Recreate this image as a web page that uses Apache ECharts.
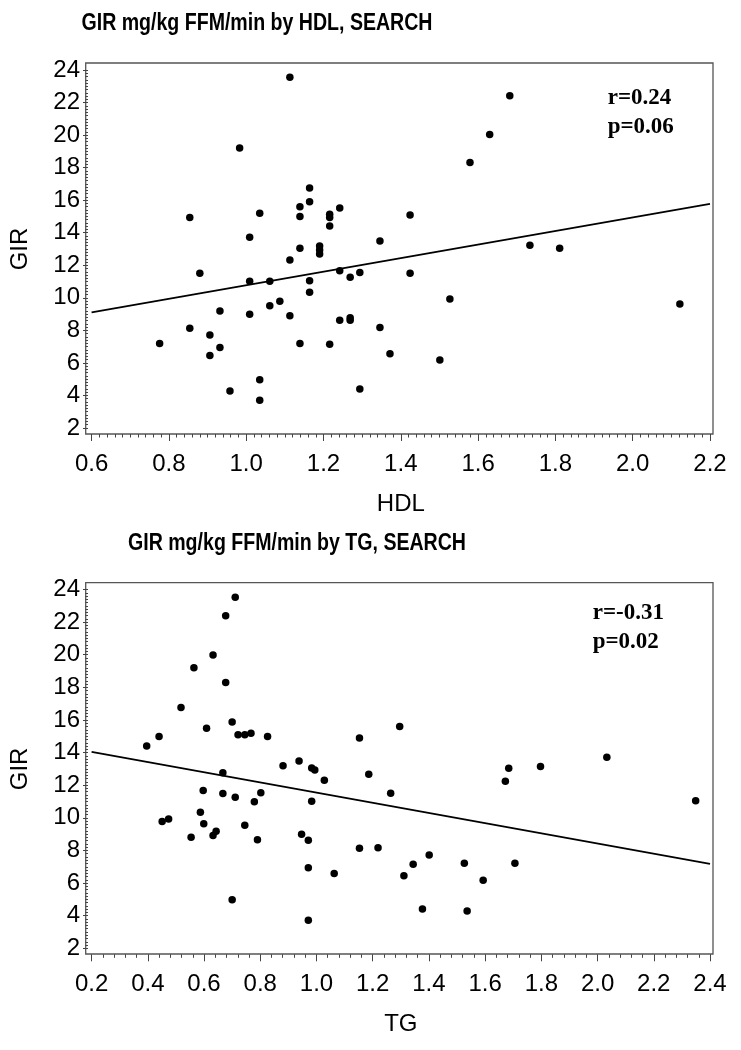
<!DOCTYPE html>
<html>
<head>
<meta charset="utf-8">
<script src="https://cdn.jsdelivr.net/npm/echarts@6/dist/echarts.min.js"></script>
<style>
html,body{margin:0;padding:0;background:#fff;}
#chart{width:741px;height:1050px;}
</style>
</head>
<body>
<div id="chart"></div>
<script>
// ---- Data: top panel (HDL vs GIR) ----
var hdlX = [1.113, 0.983, 1.164, 1.164, 1.139, 1.242, 1.035, 0.854, 1.139, 1.216, 1.216, 1.216, 1.009, 1.346, 1.139, 1.19, 1.19, 1.19, 1.113, 1.242, 1.269, 1.294, 0.88, 1.009, 1.061, 1.164, 1.164, 1.087, 1.061, 0.932, 1.682, 1.63, 1.579, 1.424, 1.734, 1.811, 1.424, 1.527, 2.122, 1.009, 1.113, 0.854, 0.776, 0.906, 0.932, 0.906, 1.139, 1.216, 1.242, 1.269, 1.269, 1.346, 1.372, 0.958, 1.035, 1.035, 1.294, 1.501];
var hdlGIR = [23.55, 19.2, 16.75, 15.9, 15.6, 15.52, 15.2, 14.93, 15.0, 15.13, 14.93, 14.42, 13.72, 13.49, 13.04, 13.19, 12.94, 12.69, 12.33, 11.67, 11.26, 11.55, 11.51, 11.02, 11.02, 11.05, 10.34, 9.79, 9.52, 9.19, 22.42, 20.03, 18.31, 15.09, 13.23, 13.04, 11.51, 9.93, 9.62, 8.99, 8.9, 8.13, 7.2, 7.72, 6.94, 6.45, 7.2, 7.14, 8.62, 8.78, 8.62, 8.17, 6.57, 4.27, 4.97, 3.7, 4.4, 6.18];
var hdlFitX = [0.6, 2.2];
var hdlFitY = [9.11, 15.77];

// ---- Data: bottom panel (TG vs GIR) ----
var tgX = [0.711, 0.677, 0.632, 0.564, 0.677, 0.518, 0.7, 0.609, 0.721, 0.745, 0.767, 0.826, 0.44, 0.396, 1.153, 1.296, 0.881, 0.938, 0.983, 0.994, 1.028, 0.667, 1.186, 0.597, 0.667, 0.711, 0.802, 0.779, 0.983, 1.264, 0.587, 0.451, 0.474, 0.599, 0.745, 0.554, 0.632, 0.643, 0.79, 0.947, 0.971, 0.971, 1.063, 1.153, 1.219, 0.7, 0.971, 2.349, 1.311, 1.344, 1.401, 1.526, 1.593, 1.706, 1.377, 1.536, 1.684, 1.672, 1.797, 2.033];
var tgGIR = [23.53, 22.39, 19.99, 19.2, 18.3, 16.76, 15.88, 15.5, 15.09, 15.09, 15.19, 14.98, 14.98, 14.41, 14.9, 15.6, 13.2, 13.49, 13.06, 12.94, 12.31, 12.76, 12.67, 11.67, 11.49, 11.26, 11.53, 10.99, 11.02, 11.51, 10.34, 9.77, 9.93, 9.63, 9.55, 8.81, 8.91, 9.18, 8.66, 8.99, 8.63, 6.94, 6.58, 8.13, 8.17, 4.98, 3.72, 11.04, 6.45, 7.15, 7.72, 7.21, 6.17, 7.21, 4.41, 4.29, 13.04, 12.25, 13.14, 13.72];
var tgFitX = [0.2, 2.4];
var tgFitY = [14.04, 7.17];

// ---- Text ----
var titles = ['GIR mg/kg FFM/min by HDL, SEARCH', 'GIR mg/kg FFM/min by TG, SEARCH'];
var xNames = ['HDL', 'TG'];
var yName = 'GIR';
var statsTop = ['r=0.24', 'p=0.06'];
var statsBottom = ['r=-0.31', 'p=0.02'];

function pairs(xs, ys) { return xs.map(function (x, i) { return [x, ys[i]]; }); }

var SANS = '"Liberation Sans", Arial, sans-serif';
var SERIF = '"Liberation Serif", "Times New Roman", serif';

function xAxisCfg(gi, min, max, minorSplit, name) {
  return {
    gridIndex: gi, type: 'value', min: min, max: max, interval: 0.2,
    offset: 6,
    name: name, nameLocation: 'middle', nameGap: 58,
    nameTextStyle: { fontFamily: SANS, fontSize: 24, color: '#000' },
    axisLine: { show: false },
    axisTick: { show: true, length: 7, lineStyle: { color: '#444', width: 1 } },
    minorTick: { show: true, splitNumber: minorSplit, length: 3.5, lineStyle: { color: '#444', width: 1 } },
    splitLine: { show: false },
    axisLabel: { fontFamily: SANS, fontSize: 24, color: '#000', margin: 18,
      formatter: function (v) { return v.toFixed(1); } }
  };
}
function yAxisCfg(gi) {
  return {
    gridIndex: gi, type: 'value', min: 2, max: 24, interval: 2,
    offset: 3.6,
    name: yName, nameLocation: 'middle', nameGap: 56,
    nameTextStyle: { fontFamily: SANS, fontSize: 24, color: '#000' },
    axisLine: { show: false },
    axisTick: { show: true, length: 5, lineStyle: { color: '#444', width: 1 } },
    minorTick: { show: true, splitNumber: 10, length: 2.5, lineStyle: { color: '#444', width: 1 } },
    splitLine: { show: false },
    axisLabel: { fontFamily: SANS, fontSize: 24, color: '#000', margin: 8 }
  };
}

function titleText(cx, cy, text, sx) {
  return { type: 'text', x: cx, y: cy, scaleX: sx, scaleY: 1,
    style: { text: text, x: 0, y: 0, align: 'center', verticalAlign: 'middle',
      font: 'bold 24px ' + SANS, fill: '#000' } };
}
function statText(lx, cy, text) {
  return { type: 'text', x: lx, y: cy,
    style: { text: text, x: 0, y: 0, align: 'left', verticalAlign: 'middle',
      font: 'bold 23px ' + SERIF, fill: '#000' } };
}
function frame(x, y, w, h) {
  return { type: 'rect', shape: { x: x, y: y, width: w, height: h }, z: 0,
    style: { fill: null, stroke: '#555', lineWidth: 1.3 } };
}

var chart = echarts.init(document.getElementById('chart'), null, { renderer: 'canvas' });
chart.setOption({
  backgroundColor: '#fff',
  animation: false,
  grid: [
    { left: 89.3, right: 31, top: 70, height: 358 },
    { left: 89.3, right: 31, top: 589.5, height: 358.8 }
  ],
  xAxis: [ xAxisCfg(0, 0.6, 2.2, 10, xNames[0]), xAxisCfg(1, 0.2, 2.4, 5, xNames[1]) ],
  yAxis: [ yAxisCfg(0), yAxisCfg(1) ],
  graphic: [
    frame(85.7, 63, 627.3, 371),
    frame(85.7, 582.7, 627.3, 371.3),
    titleText(257, 23, titles[0], 0.815),
    titleText(297, 543, titles[1], 0.815),
    statText(607.7, 98, statsTop[0]),
    statText(607.7, 127, statsTop[1]),
    statText(592.7, 613, statsBottom[0]),
    statText(592.7, 641.7, statsBottom[1])
  ],
  series: [
    { type: 'scatter', xAxisIndex: 0, yAxisIndex: 0, data: pairs(hdlX, hdlGIR),
      symbol: 'circle', symbolSize: 7.5, itemStyle: { color: '#000', opacity: 1 }, z: 3 },
    { type: 'line', xAxisIndex: 0, yAxisIndex: 0, data: pairs(hdlFitX, hdlFitY),
      showSymbol: false, lineStyle: { color: '#000', width: 1.8 }, z: 2 },
    { type: 'scatter', xAxisIndex: 1, yAxisIndex: 1, data: pairs(tgX, tgGIR),
      symbol: 'circle', symbolSize: 7.5, itemStyle: { color: '#000', opacity: 1 }, z: 3 },
    { type: 'line', xAxisIndex: 1, yAxisIndex: 1, data: pairs(tgFitX, tgFitY),
      showSymbol: false, lineStyle: { color: '#000', width: 1.8 }, z: 2 }
  ]
});
</script>
</body>
</html>
